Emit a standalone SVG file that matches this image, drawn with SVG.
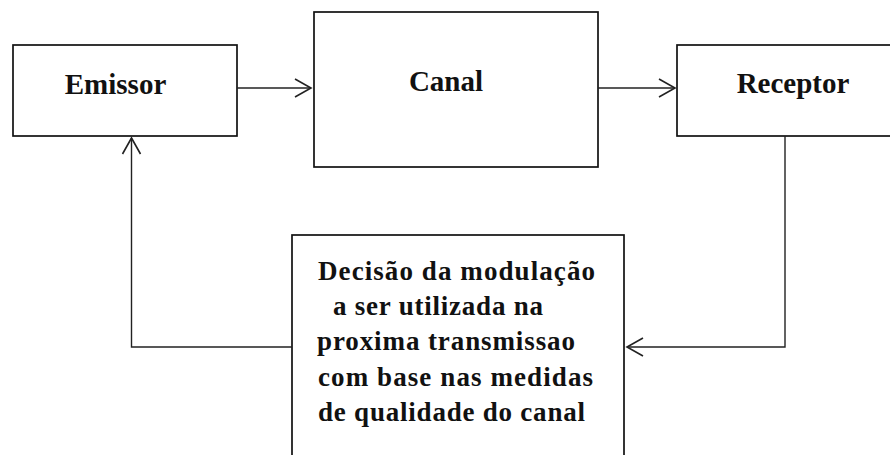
<svg xmlns="http://www.w3.org/2000/svg" width="890" height="455" viewBox="0 0 890 455">
<style>
.box{fill:#fff;stroke:#111;stroke-width:1.7}
.lbl{font-family:"Liberation Serif","Times New Roman",serif;font-weight:bold;fill:#111}
.big{font-size:29px;text-anchor:middle}
.sm{font-size:27px}
.conn{fill:none;stroke:#222;stroke-width:1.4}
.head{fill:none;stroke:#222;stroke-width:1.6}
</style>
<rect width="890" height="455" fill="#fff"/>
<g id="emissor">
<rect class="box" x="13" y="45" width="224" height="91"/>
<text class="lbl big" x="115.5" y="94">Emissor</text>
</g>
<g id="canal">
<rect class="box" x="314" y="12" width="284" height="155"/>
<text class="lbl big" x="446" y="91">Canal</text>
</g>
<g id="receptor">
<rect class="box" x="677" y="45" width="240" height="91"/>
<text class="lbl big" x="793" y="93">Receptor</text>
</g>
<g id="decisao">
<rect class="box" x="292" y="235" width="332" height="240"/>
<text class="lbl sm" x="318" y="280" textLength="277" lengthAdjust="spacing">Decisão da modulação</text>
<text class="lbl sm" x="333" y="314.5" textLength="210" lengthAdjust="spacing">a ser utilizada na</text>
<text class="lbl sm" x="317" y="350" textLength="258" lengthAdjust="spacing">proxima transmissao</text>
<text class="lbl sm" x="318" y="385.5" textLength="275" lengthAdjust="spacing">com base nas medidas</text>
<text class="lbl sm" x="318" y="421" textLength="267" lengthAdjust="spacing">de qualidade do canal</text>
</g>
<g id="connectors">
<path class="conn" d="M237 88H311"/>
<path class="head" d="M295 79L311 88L295 97"/>
<path class="conn" d="M598 88H675"/>
<path class="head" d="M659 79L675 88L659 97"/>
<path class="conn" d="M785 136V347H627"/>
<path class="head" d="M643 338L627 347L643 356"/>
<path class="conn" d="M292 347H131.5V138"/>
<path class="head" d="M122.5 154L131.5 138L140.5 154"/>
</g>
</svg>
